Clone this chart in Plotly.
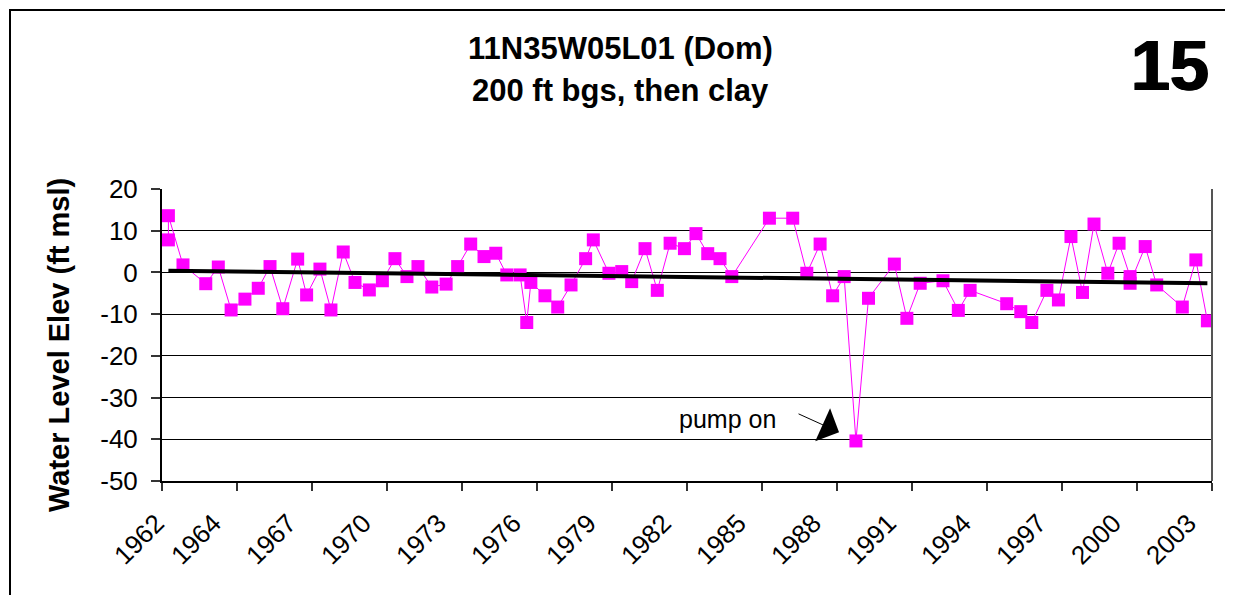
import numpy as np
import plotly.graph_objects as go

# ---- data (decimal years, water level elevation in ft msl) ----
years = [1962.25, 1962.25, 1962.82, 1963.71, 1964.20, 1964.70, 1965.24, 1965.76, 1966.22, 1966.72,
         1967.30, 1967.65, 1968.17, 1968.60, 1969.08, 1969.54, 1970.10, 1970.61, 1971.10, 1971.57,
         1972.00, 1972.54, 1973.10, 1973.55, 1974.06, 1974.58, 1975.04, 1975.47, 1975.99, 1976.25,
         1976.41, 1976.96, 1977.46, 1977.98, 1978.55, 1978.85, 1979.46, 1979.96, 1980.35, 1980.87,
         1981.35, 1981.85, 1982.41, 1982.86, 1983.32, 1983.80, 1984.26, 1985.73, 1986.64, 1987.19,
         1987.71, 1988.20, 1988.65, 1989.11, 1989.60, 1990.61, 1991.10, 1991.62, 1992.51, 1993.11,
         1993.57, 1995.00, 1995.55, 1995.98, 1996.57, 1997.02, 1997.51, 1997.96, 1998.41, 1998.95,
         1999.39, 1999.82, 1999.82, 2000.41, 2000.86, 2001.86, 2002.39, 2002.84]
elev = [7.8, 13.6, 1.8, -2.7, 1.3, -9.0, -6.4, -3.8, 1.4, -8.7,
        3.2, -5.4, 0.8, -9.0, 4.9, -2.4, -4.2, -2.0, 3.3, -1.0,
        1.4, -3.5, -2.8, 1.4, 6.8, 3.8, 4.6, -0.6, -0.6, -12.0,
        -2.4, -5.6, -8.3, -3.0, 3.3, 7.8, -0.2, 0.2, -2.2, 5.7,
        -4.3, 7.0, 5.7, 9.3, 4.5, 3.3, -1.0, 13.0, 13.0, -0.2,
        6.8, -5.6, -1.0, -40.4, -6.2, 2.0, -11.0, -2.6, -2.0, -9.1,
        -4.3, -7.5, -9.4, -12.0, -4.3, -6.6, 8.6, -4.8, 11.6, -0.2,
        7.0, -1.0, -2.6, 6.2, -3.0, -8.3, 3.0, -11.6]

x_tick_labels = ["1962", "1964", "1967", "1970", "1973", "1976", "1979", "1982",
                 "1985", "1988", "1991", "1994", "1997", "2000", "2003"]
y_tick_vals = [20, 10, 0, -10, -20, -30, -40, -50]
y_tick_labels = ["20", "10", "0", "-10", "-20", "-30", "-40", "-50"]
x_range = [1962.0, 2003.02]
y_range = [-50, 20]

title_line1 = "11N35W05L01 (Dom)"
title_line2 = "200 ft bgs, then clay"
well_number = "15"
y_title = "Water Level Elev (ft msl)"
pump_note = "pump on"
pump_point = (1988.45, -38.3)
pump_text_pos = (1984.09, -35.1)

# linear trend (least squares) of the series
coef = np.polyfit(years, elev, 1)
trend_x = [min(years), max(years)]
trend_y = [float(np.polyval(coef, v)) for v in trend_x]

x_tick_vals = list(np.linspace(x_range[0], x_range[1], len(x_tick_labels)))

FONT = "Liberation Sans, Arial, sans-serif"
MAG = "#FF00FF"

# page has an 8px body margin: figure is sized to end at the window edge
OFF = 8
W, H = 1233 - OFF, 595 - OFF
L, R, T, B = 162 - OFF, 1233 - 1212, 189 - OFF, 595 - 481
pw, ph = W - L - R, H - T - B


def px_x(p):
    """window pixel x -> paper coordinate"""
    return (p - OFF - L) / pw


def px_y(p):
    """window pixel y -> paper coordinate"""
    return (H - B - (p - OFF)) / ph


fig = go.Figure()
fig.add_trace(go.Scatter(
    x=years, y=elev, mode="lines+markers",
    line=dict(color=MAG, width=1),
    marker=dict(symbol="square", size=13, color=MAG, line=dict(width=0)),
    showlegend=False, hoverinfo="x+y"))
fig.add_trace(go.Scatter(
    x=trend_x, y=trend_y, mode="lines",
    line=dict(color="black", width=4),
    showlegend=False, hoverinfo="skip"))

annotations = [
    dict(text=f"<b>{title_line1}</b>", xref="paper", yref="paper",
         x=px_x(620), y=px_y(48), xanchor="center", yanchor="middle",
         showarrow=False, font=dict(size=31, family=FONT, color="black")),
    dict(text=f"<b>{title_line2}</b>", xref="paper", yref="paper",
         x=px_x(620), y=px_y(90), xanchor="center", yanchor="middle",
         showarrow=False, font=dict(size=31, family=FONT, color="black")),
    dict(text=f"<b>{well_number}</b>", xref="paper", yref="paper",
         x=px_x(1170), y=px_y(66), xanchor="center", yanchor="middle",
         showarrow=False,
         font=dict(size=70, family="Liberation Sans Narrow, Arial Narrow, Liberation Sans, sans-serif",
                   color="black", shadow="1px 0px 0px black, -1px 0px 0px black")),
    dict(text=f"<b>{y_title}</b>", xref="paper", yref="paper",
         x=px_x(59), y=px_y(345), xanchor="center", yanchor="middle",
         textangle=-90, showarrow=False,
         font=dict(size=29, family=FONT, color="black")),
    dict(text=pump_note, x=pump_text_pos[0], y=pump_text_pos[1],
         xref="x", yref="y", showarrow=False, xanchor="center", yanchor="middle",
         font=dict(size=25, family=FONT, color="black")),
    dict(text="", x=pump_point[0], y=pump_point[1], xref="x", yref="y",
         ax=-42, ay=-19, showarrow=True, arrowhead=1, arrowsize=6,
         arrowwidth=1, arrowcolor="black", standoff=0),
]

# rotated date labels, placed like the original (end of text just left of the tick)
for i, (tv, tl) in enumerate(zip(x_tick_vals, x_tick_labels)):
    annotations.append(dict(
        text=tl, x=tv, y=px_y(505), xref="x", yref="paper",
        xanchor="right", yanchor="top", textangle=-45,
        xshift=(11 if i == 0 else -7), showarrow=False,
        font=dict(size=26, family=FONT, color="black")))

fig.update_layout(
    width=W, height=H,
    margin=dict(l=L, r=R, t=T, b=B, pad=0),
    paper_bgcolor="white", plot_bgcolor="white",
    font=dict(family=FONT, color="black"),
    showlegend=False,
    xaxis=dict(
        range=x_range, tickmode="array", tickvals=x_tick_vals, ticktext=x_tick_labels,
        showticklabels=False,
        showline=True, linecolor="black", linewidth=2,
        ticks="outside", ticklen=8, tickwidth=1.5, tickcolor="#333",
        showgrid=False, zeroline=False),
    yaxis=dict(
        range=y_range, tickmode="array", tickvals=y_tick_vals, ticktext=y_tick_labels,
        tickfont=dict(size=26, family=FONT, color="black"),
        showline=True, linecolor="black", linewidth=2,
        ticks="outside", ticklen=9, tickwidth=1.5, tickcolor="#333",
        showgrid=True, gridcolor="black", gridwidth=1,
        zeroline=False, ticklabelstandoff=8),
    shapes=[
        dict(type="rect", xref="paper", yref="paper",
             x0=px_x(10), x1=px_x(1228), y0=px_y(620), y1=px_y(10),
             line=dict(color="black", width=2), layer="below"),
        dict(type="line", xref="paper", yref="paper",
             x0=1, x1=1, y0=0, y1=1, line=dict(color="#555", width=2)),
    ],
    annotations=annotations,
)

fig.write_html("out.html")
